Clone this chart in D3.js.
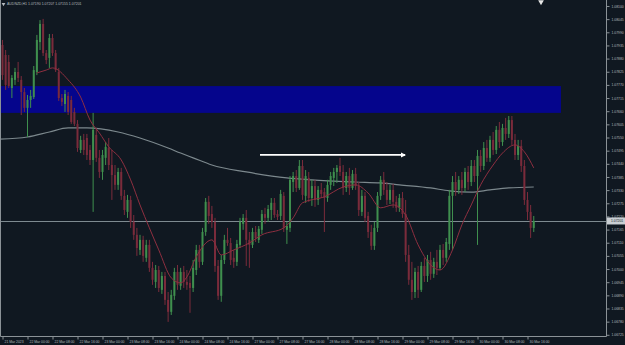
<!DOCTYPE html>
<html>
<head>
<meta charset="utf-8">
<script src="https://cdn.jsdelivr.net/npm/d3@7"></script>
<style>
  html, body { margin: 0; padding: 0; background: #101821; }
  #chart svg { display: block; }
</style>
</head>
<body>
<div id="chart"></div>
<script>
// --------------------------------------
//  Data
// --------------------------------------

const symbolTitle = "AUDNZD,H1  1.07190 1.07207 1.07155 1.07201";

const timeLabels = ["21 Mar 2023", "22 Mar 00:00", "22 Mar 08:00", "22 Mar 16:00", "23 Mar 00:00", "23 Mar 08:00",
  "23 Mar 16:00", "24 Mar 00:00", "24 Mar 08:00", "24 Mar 16:00", "27 Mar 00:00", "27 Mar 08:00", "27 Mar 16:00",
  "28 Mar 00:00", "28 Mar 08:00", "28 Mar 16:00", "29 Mar 00:00", "29 Mar 08:00", "29 Mar 16:00", "30 Mar 00:00",
  "30 Mar 08:00", "30 Mar 16:00"];

const priceTicks = [1.08100, 1.08045, 1.07990, 1.07935, 1.07880, 1.07825, 1.07770, 1.07715, 1.07660, 1.07605,
  1.07550, 1.07495, 1.07440, 1.07385, 1.07330, 1.07275, 1.07220, 1.07165, 1.07110, 1.07055, 1.07000, 1.06945,
  1.06890, 1.06835, 1.06780, 1.06725];

const opens = [
  1.07937, 1.07895, 1.07866, 1.07757, 1.07791, 1.07824, 1.07791, 1.07740, 1.07674, 1.07707,
  1.07719, 1.07824, 1.07949, 1.08025, 1.07903, 1.07883, 1.07966, 1.07903, 1.07824, 1.07715,
  1.07690, 1.07724, 1.07707, 1.07657, 1.07607, 1.07498, 1.07540, 1.07548, 1.07498, 1.07456,
  1.07561, 1.07465, 1.07406, 1.07465, 1.07506, 1.07435, 1.07393, 1.07352, 1.07406, 1.07306,
  1.07239, 1.07289, 1.07197, 1.07143, 1.07080, 1.07122, 1.07047, 1.07101, 1.07005, 1.06946,
  1.06996, 1.06913, 1.06971, 1.06871, 1.06821, 1.06888, 1.06988, 1.06930, 1.06988, 1.06946,
  1.06942, 1.06921, 1.06996, 1.07080, 1.07030, 1.07155, 1.07281, 1.07230, 1.07197, 1.07013,
  1.06888, 1.07038, 1.07122, 1.07109, 1.07047, 1.07030, 1.07101, 1.07189, 1.07214, 1.07122,
  1.07101, 1.07155, 1.07122, 1.07164, 1.07230, 1.07214, 1.07247, 1.07277, 1.07230, 1.07222,
  1.07306, 1.07164, 1.07172, 1.07364, 1.07389, 1.07339, 1.07431, 1.07306, 1.07381, 1.07297,
  1.07347, 1.07289, 1.07331, 1.07322, 1.07297, 1.07352, 1.07381, 1.07406, 1.07431, 1.07406,
  1.07339, 1.07389, 1.07339, 1.07398, 1.07347, 1.07239, 1.07306, 1.07222, 1.07155, 1.07097,
  1.07172, 1.07306, 1.07373, 1.07331, 1.07289, 1.07331, 1.07281, 1.07256, 1.07297, 1.07230,
  1.07059, 1.06955, 1.06904, 1.06988, 1.06913, 1.07013, 1.06971, 1.07038, 1.06980, 1.07030,
  1.07005, 1.07080, 1.07047, 1.07105, 1.07306, 1.07364, 1.07331, 1.07373, 1.07339, 1.07406,
  1.07364, 1.07431, 1.07389, 1.07473, 1.07431, 1.07506, 1.07465, 1.07540, 1.07498, 1.07582,
  1.07531, 1.07590, 1.07565, 1.07623, 1.07540, 1.07477, 1.07515, 1.07431, 1.07289, 1.07239,
  1.07172];

const highs = [
  1.07958, 1.07916, 1.07895, 1.07811, 1.07841, 1.07866, 1.07807, 1.07757, 1.07728, 1.07749,
  1.07849, 1.07979, 1.08041, 1.08046, 1.07916, 1.07983, 1.07983, 1.07916, 1.07841, 1.07732,
  1.07749, 1.07740, 1.07724, 1.07674, 1.07623, 1.07557, 1.07565, 1.07565, 1.07519, 1.07653,
  1.07590, 1.07498, 1.07498, 1.07531, 1.07548, 1.07498, 1.07435, 1.07423, 1.07423, 1.07331,
  1.07310, 1.07306, 1.07226, 1.07172, 1.07143, 1.07139, 1.07122, 1.07122, 1.07030, 1.07017,
  1.07013, 1.06988, 1.06988, 1.06904, 1.06913, 1.07005, 1.07017, 1.07005, 1.07013, 1.06996,
  1.06971, 1.07038, 1.07101, 1.07101, 1.07172, 1.07297, 1.07306, 1.07264, 1.07214, 1.07038,
  1.07059, 1.07143, 1.07172, 1.07130, 1.07080, 1.07122, 1.07214, 1.07230, 1.07247, 1.07155,
  1.07172, 1.07180, 1.07180, 1.07247, 1.07256, 1.07268, 1.07297, 1.07297, 1.07247, 1.07331,
  1.07322, 1.07197, 1.07389, 1.07406, 1.07414, 1.07456, 1.07456, 1.07414, 1.07406, 1.07373,
  1.07373, 1.07347, 1.07360, 1.07339, 1.07373, 1.07406, 1.07423, 1.07435, 1.07465, 1.07435,
  1.07406, 1.07423, 1.07414, 1.07423, 1.07364, 1.07331, 1.07322, 1.07239, 1.07185, 1.07197,
  1.07322, 1.07389, 1.07406, 1.07364, 1.07352, 1.07356, 1.07306, 1.07314, 1.07322, 1.07289,
  1.07101, 1.07030, 1.07005, 1.07013, 1.07030, 1.07047, 1.07059, 1.07072, 1.07047, 1.07080,
  1.07101, 1.07105, 1.07130, 1.07331, 1.07389, 1.07406, 1.07389, 1.07406, 1.07423, 1.07431,
  1.07456, 1.07456, 1.07498, 1.07498, 1.07531, 1.07540, 1.07557, 1.07573, 1.07598, 1.07615,
  1.07607, 1.07632, 1.07640, 1.07640, 1.07565, 1.07540, 1.07540, 1.07456, 1.07322, 1.07268,
  1.07222];

const lows = [
  1.07791, 1.07749, 1.07757, 1.07715, 1.07770, 1.07782, 1.07644, 1.07657, 1.07552, 1.07674,
  1.07711, 1.07811, 1.07916, 1.07891, 1.07857, 1.07841, 1.07891, 1.07824, 1.07703, 1.07682,
  1.07657, 1.07644, 1.07607, 1.07598, 1.07490, 1.07485, 1.07477, 1.07456, 1.07435, 1.07239,
  1.07448, 1.07381, 1.07373, 1.07435, 1.07414, 1.07289, 1.07331, 1.07331, 1.07289, 1.07226,
  1.07214, 1.07172, 1.07122, 1.07055, 1.07059, 1.07030, 1.07030, 1.06988, 1.06934, 1.06921,
  1.06904, 1.06896, 1.06850, 1.06779, 1.06808, 1.06871, 1.06913, 1.06913, 1.06921, 1.06913,
  1.06817, 1.06904, 1.06975, 1.07005, 1.07017, 1.07139, 1.07189, 1.07172, 1.06988, 1.06871,
  1.06863, 1.07021, 1.07097, 1.07017, 1.07005, 1.07013, 1.07088, 1.07164, 1.07013, 1.07005,
  1.07088, 1.07113, 1.07109, 1.07147, 1.07189, 1.07197, 1.07205, 1.07214, 1.07205, 1.07205,
  1.07155, 1.07105, 1.07155, 1.07322, 1.07322, 1.07331, 1.07289, 1.07277, 1.07281, 1.07264,
  1.07260, 1.07268, 1.07297, 1.07155, 1.07281, 1.07331, 1.07347, 1.07360, 1.07389, 1.07310,
  1.07322, 1.07310, 1.07331, 1.07331, 1.07222, 1.07222, 1.07197, 1.07130, 1.07080, 1.07080,
  1.07155, 1.07289, 1.07310, 1.07268, 1.07272, 1.07256, 1.07239, 1.07239, 1.07214, 1.07030,
  1.06934, 1.06871, 1.06879, 1.06879, 1.06904, 1.06946, 1.06946, 1.06955, 1.06963, 1.06975,
  1.06996, 1.07017, 1.07030, 1.07080, 1.07080, 1.07306, 1.07314, 1.07310, 1.07322, 1.07331,
  1.07347, 1.07364, 1.07101, 1.07406, 1.07414, 1.07448, 1.07448, 1.07477, 1.07481, 1.07506,
  1.07515, 1.07540, 1.07548, 1.07519, 1.07456, 1.07456, 1.07406, 1.07268, 1.07205, 1.07130,
  1.07155];

const closes = [
  1.07811, 1.07770, 1.07765, 1.07799, 1.07824, 1.07799, 1.07740, 1.07674, 1.07707, 1.07724,
  1.07832, 1.07958, 1.08025, 1.07903, 1.07874, 1.07966, 1.07903, 1.07832, 1.07715, 1.07699,
  1.07732, 1.07657, 1.07615, 1.07607, 1.07506, 1.07540, 1.07498, 1.07477, 1.07456, 1.07582,
  1.07465, 1.07406, 1.07477, 1.07511, 1.07435, 1.07393, 1.07352, 1.07406, 1.07306, 1.07247,
  1.07289, 1.07197, 1.07143, 1.07088, 1.07122, 1.07055, 1.07101, 1.07005, 1.06955, 1.06996,
  1.06921, 1.06971, 1.06871, 1.06821, 1.06892, 1.06988, 1.06934, 1.06988, 1.06946, 1.06934,
  1.06921, 1.07005, 1.07080, 1.07030, 1.07155, 1.07281, 1.07222, 1.07197, 1.07013, 1.06888,
  1.07038, 1.07122, 1.07109, 1.07038, 1.07030, 1.07105, 1.07197, 1.07214, 1.07122, 1.07101,
  1.07155, 1.07130, 1.07168, 1.07230, 1.07214, 1.07251, 1.07277, 1.07226, 1.07218, 1.07314,
  1.07172, 1.07180, 1.07373, 1.07389, 1.07339, 1.07431, 1.07310, 1.07389, 1.07297, 1.07347,
  1.07289, 1.07331, 1.07314, 1.07297, 1.07352, 1.07389, 1.07406, 1.07423, 1.07406, 1.07339,
  1.07389, 1.07339, 1.07398, 1.07347, 1.07247, 1.07306, 1.07214, 1.07155, 1.07097, 1.07172,
  1.07306, 1.07373, 1.07331, 1.07289, 1.07331, 1.07281, 1.07256, 1.07297, 1.07230, 1.07059,
  1.06955, 1.06904, 1.06988, 1.06913, 1.07013, 1.06971, 1.07038, 1.06980, 1.07030, 1.07005,
  1.07080, 1.07047, 1.07113, 1.07306, 1.07364, 1.07331, 1.07373, 1.07339, 1.07406, 1.07364,
  1.07431, 1.07389, 1.07473, 1.07431, 1.07506, 1.07465, 1.07540, 1.07498, 1.07582, 1.07531,
  1.07590, 1.07565, 1.07623, 1.07540, 1.07477, 1.07515, 1.07431, 1.07289, 1.07239, 1.07172,
  1.07201];

// moving averages: [bar, price]
const slowMA = [[-1, 1.07543], [8, 1.07552], [15, 1.07573], [21, 1.07590], [27, 1.07590], [37, 1.07573],
  [44, 1.07548], [53, 1.07506], [57, 1.07485], [61, 1.07465], [67, 1.07435], [78, 1.07406], [91, 1.07381],
  [99, 1.07373], [113, 1.07364], [121, 1.07360], [127, 1.07352], [137, 1.07339], [143, 1.07327],
  [150, 1.07322], [156, 1.07331], [162, 1.07339], [170, 1.07343]];

const fastMA = [[11, 1.07820], [14, 1.07832], [16, 1.07841], [21, 1.07791], [25, 1.07719], [28, 1.07623],
  [31, 1.07569], [34, 1.07511], [38, 1.07456], [41, 1.07373], [44, 1.07268], [47, 1.07172], [50, 1.07080],
  [54, 1.06963], [57, 1.06942], [59, 1.06967], [62, 1.07051], [67, 1.07122], [70, 1.07059], [74, 1.07080],
  [79, 1.07109], [83, 1.07143], [90, 1.07172], [93, 1.07214], [96, 1.07277], [103, 1.07302], [109, 1.07343],
  [113, 1.07352], [117, 1.07318], [121, 1.07256], [125, 1.07268], [129, 1.07226], [133, 1.07101],
  [137, 1.07017], [140, 1.06996], [144, 1.07080], [147, 1.07185], [150, 1.07268], [153, 1.07352],
  [157, 1.07435], [160, 1.07485], [164, 1.07519], [167, 1.07490], [170, 1.07423]];

const zonePrices = [1.07765, 1.07653];
const zoneEndBar = 178.7;
const trendBars = [82.4, 128.8];
const trendPrice = 1.07477;
const lastPrice = 1.07201;

// --------------------------------------
//  Canvas
// --------------------------------------

const width = 625;
const height = 345;
const plotRight = 606;
const plotBottom = 336;
const bg = "#101821";

const svg = d3.select("#chart")
  .append("svg")
    .attr("width", width)
    .attr("height", height)
    .attr("viewBox", [0, 0, width, height]);

svg.append("rect")
    .attr("width", width)
    .attr("height", height)
    .attr("fill", bg);

svg.append("clipPath")
    .attr("id", "plot-clip")
  .append("rect")
    .attr("width", plotRight)
    .attr("height", plotBottom);

const plot = svg.append("g").attr("clip-path", "url(#plot-clip)");

// --------------------------------------
//  Scales
// --------------------------------------

const x = d3.scaleLinear()
    .domain([0, 170])
    .range([2.5, 533.75]);

const y = d3.scaleLinear()
    .domain([1.06720, 1.08125])
    .range([plotBottom, 0]);

const candles = closes.map((c, i) => ({ i, o: opens[i], h: highs[i], l: lows[i], c }));

// --------------------------------------
//  Zone, lines
// --------------------------------------

plot.append("rect")
    .attr("x", 0)
    .attr("y", y(zonePrices[0]))
    .attr("width", x(zoneEndBar))
    .attr("height", y(zonePrices[1]) - y(zonePrices[0]))
    .attr("fill", "#05058c");

plot.append("line")
    .attr("x1", 0)
    .attr("x2", plotRight)
    .attr("y1", Math.round(y(lastPrice)) + 0.5)
    .attr("y2", Math.round(y(lastPrice)) + 0.5)
    .attr("stroke", "#7e8a90")
    .attr("stroke-width", 1);

const line = d3.line()
    .x(d => x(d[0]))
    .y(d => y(d[1]))
    .curve(d3.curveMonotoneX);

plot.append("path")
    .attr("d", line(slowMA))
    .attr("fill", "none")
    .attr("stroke", "#7c888d")
    .attr("stroke-width", 1.2);

// --------------------------------------
//  Candles
// --------------------------------------

const bull = "#3f8f4e";
const bear = "#7a2b3b";

plot.selectAll(".wick")
  .data(candles)
  .join("rect")
    .attr("class", "wick")
    .attr("x", d => x(d.i) - 0.5)
    .attr("y", d => y(d.h))
    .attr("width", 1)
    .attr("height", d => Math.max(1, y(d.l) - y(d.h)))
    .attr("fill", d => d.c >= d.o ? bull : bear);

plot.selectAll(".body")
  .data(candles)
  .join("rect")
    .attr("class", "body")
    .attr("x", d => x(d.i) - 1)
    .attr("y", d => y(Math.max(d.o, d.c)))
    .attr("width", 2)
    .attr("height", d => Math.max(1, Math.abs(y(d.o) - y(d.c))))
    .attr("fill", d => d.c >= d.o ? bull : bear);

plot.append("path")
    .attr("d", line(fastMA))
    .attr("fill", "none")
    .attr("stroke", "#8e2f40")
    .attr("stroke-width", 1);

// trend line with arrow
svg.append("defs")
  .append("marker")
    .attr("id", "arrow")
    .attr("viewBox", "0 0 10 10")
    .attr("refX", 8)
    .attr("refY", 5)
    .attr("markerWidth", 3)
    .attr("markerHeight", 3)
    .attr("orient", "auto")
  .append("path")
    .attr("d", "M0,0L10,5L0,10z")
    .attr("fill", "#ffffff");

plot.append("line")
    .attr("x1", x(trendBars[0]))
    .attr("x2", x(trendBars[1]))
    .attr("y1", y(trendPrice))
    .attr("y2", y(trendPrice))
    .attr("stroke", "#ffffff")
    .attr("stroke-width", 1.8)
    .attr("marker-end", "url(#arrow)");

// --------------------------------------
//  Axes
// --------------------------------------

const axisColor = "#8b9297";
const textColor = "#b4b9be";
const font = "'Liberation Sans', Arial, sans-serif";

const yAxis = svg.append("g")
    .attr("transform", `translate(${plotRight + 0.5}, 0)`)
    .call(d3.axisRight(y)
        .tickValues(priceTicks)
        .tickSize(3)
        .tickPadding(2)
        .tickFormat(d3.format(".5f")));

const xAxis = svg.append("g")
    .attr("transform", `translate(0, ${plotBottom + 0.5})`)
    .call(d3.axisBottom(x)
        .tickValues(d3.range(0, 169, 8))
        .tickSize(3)
        .tickPadding(1)
        .tickFormat((d, i) => timeLabels[i]));

[yAxis, xAxis].forEach(g => {
  g.select(".domain").remove();
  g.selectAll(".tick line").attr("stroke", axisColor);
  g.selectAll("text")
      .attr("fill", textColor)
      .style("font-family", font)
      .style("font-size", "3.4px");
});

xAxis.selectAll("text")
    .attr("text-anchor", "start")
    .attr("dx", "1.5");

svg.append("path")
    .attr("d", `M0.5,0V${plotBottom + 0.5}H${plotRight + 0.5}V0`)
    .attr("fill", "none")
    .attr("stroke", axisColor)
    .attr("stroke-width", 1);

// current price label
const ly = y(lastPrice);
svg.append("rect")
    .attr("x", plotRight + 1)
    .attr("y", ly - 3.5)
    .attr("width", width - plotRight - 1)
    .attr("height", 7)
    .attr("fill", "#c9ced3");

svg.append("text")
    .attr("x", plotRight + 5)
    .attr("y", ly + 1.3)
    .attr("fill", bg)
    .style("font-family", font)
    .style("font-size", "3.4px")
    .text(d3.format(".5f")(lastPrice));

// --------------------------------------
//  Header and markers
// --------------------------------------

svg.append("path")
    .attr("transform", "translate(3.5, 4) rotate(180)")
    .attr("d", d3.symbol(d3.symbolTriangle, 6)())
    .attr("fill", textColor);

svg.append("text")
    .attr("x", 7)
    .attr("y", 5.3)
    .attr("fill", textColor)
    .style("font-family", font)
    .style("font-size", "3.5px")
    .text(symbolTitle);

svg.append("path")
    .attr("transform", "translate(541, 2) rotate(180)")
    .attr("d", d3.symbol(d3.symbolTriangle, 14)())
    .attr("fill", "#e6e6e6");
</script>
</body>
</html>
